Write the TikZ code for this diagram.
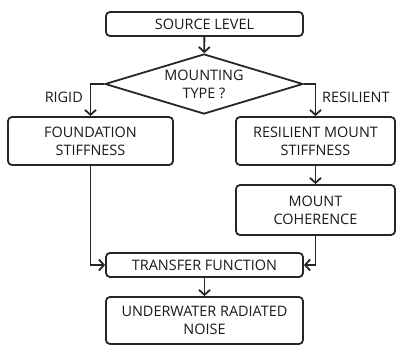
\documentclass[tikz,border=0pt]{standalone}
\usepackage{fontspec}
\setmainfont{Open Sans}
\usetikzlibrary{arrows.meta,shapes.geometric}
\tikzset{
  box/.style={draw=black!85, line width=1.8bp, rounded corners=4bp, align=center, inner sep=0pt, font=\fontsize{14.5}{18}\selectfont, text=black!90},
  kstep/.style={box, minimum width=197bp, minimum height=24bp},
  kbig/.style={box, minimum width=197bp, minimum height=47bp},
  kside/.style={box, minimum height=48bp},
  kdecision/.style={draw=black!85, line width=1.8bp, diamond, aspect=3.3, inner sep=0pt, minimum width=198bp, minimum height=60bp, align=center, font=\fontsize{14.5}{18}\selectfont, text=black!90},
  lbl/.style={font=\fontsize{14.5}{18}\selectfont, text=black!90, inner sep=0pt},
  flow/.style={-{Straight Barb[length=5bp, width=11bp, line width=1.8bp]}, line width=1.8bp, draw=black!85},
}
\begin{document}
\begin{tikzpicture}[x=1bp, y=-1bp]
    \useasboundingbox (0,0) rectangle (396,345);
    \node[kstep] (src) at (204.5,24) {SOURCE LEVEL};
    \node[kdecision] (mt) at (204,84) {MOUNTING\\TYPE ?};
    \node[kside, minimum width=165bp] (found) at (90.5,141) {FOUNDATION\\STIFFNESS};
    \node[kside, minimum width=159bp] (resil) at (315.5,141) {RESILIENT MOUNT\\STIFFNESS};
    \node[kside, minimum width=159bp, minimum height=50bp] (coh) at (315.5,210) {MOUNT\\COHERENCE};
    \node[kstep] (tf) at (204.5,265) {TRANSFER FUNCTION};
    \node[kbig] (noise) at (204.5,320.5) {UNDERWATER RADIATED\\NOISE};
    \node[lbl, anchor=east] (rigid) at (83,97) {RIGID};
    \node[lbl, anchor=west] (resl) at (322,97) {RESILIENT};
    \draw[flow] (src) -- (mt);
    \draw[flow] (mt.west) -| (found.north);
    \draw[flow] (mt.east) -| (resil.north);
    \draw[flow] (resil) -- (coh);
    \draw[flow] (found.south) |- (tf.west);
    \draw[flow] (coh.south) |- (tf.east);
    \draw[flow] (tf) -- (noise);
  \end{tikzpicture}
\end{document}
